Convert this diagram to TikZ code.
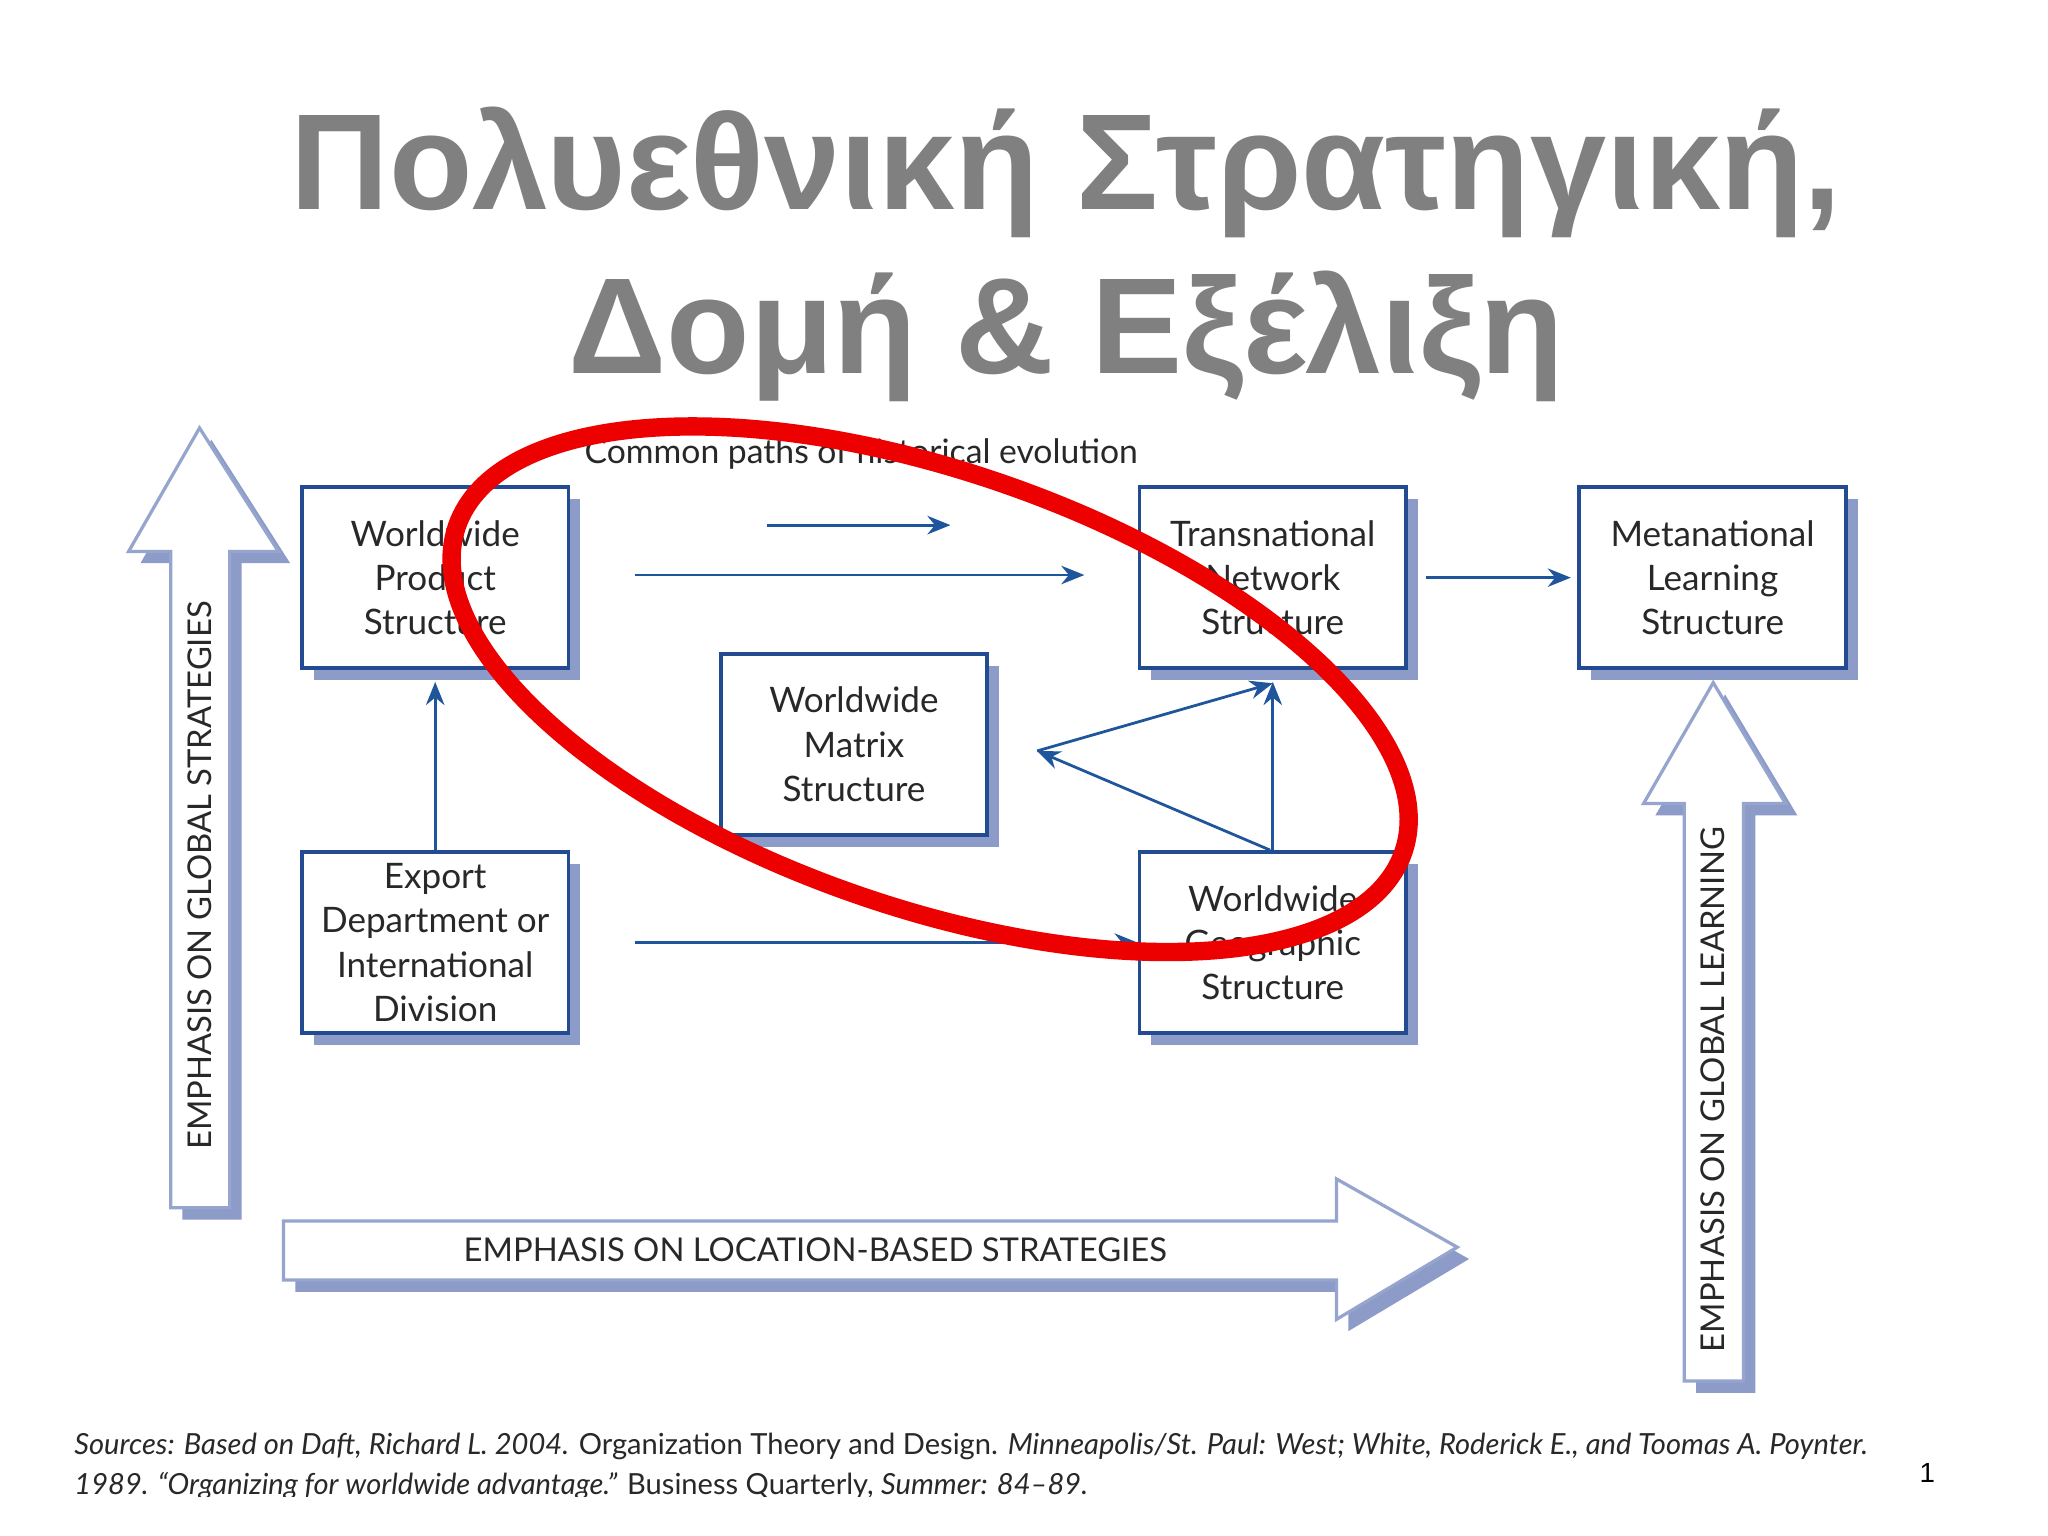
\documentclass[tikz,border=0pt]{standalone}
\usepackage{fontspec}
\setmainfont{Lato}
\newfontfamily\titlefont{Liberation Sans}
\usetikzlibrary{shadows,arrows.meta}
\definecolor{shadowc}{RGB}{140,155,200}
\definecolor{boxc}{RGB}{35,75,145}
\definecolor{arrc}{RGB}{30,85,155}
\definecolor{bigc}{RGB}{150,165,205}
\definecolor{txt}{RGB}{40,40,40}
\definecolor{titlec}{RGB}{128,128,128}
\definecolor{redc}{RGB}{236,0,0}
\tikzset{
  stbox/.style={draw=boxc,line width=0.8pt,fill=white,minimum width=2.03cm,minimum height=1.38cm,align=center,inner sep=1pt,
    font=\fontsize{7.6pt}{9.6pt}\selectfont,text=txt,
    general shadow={fill=shadowc,shadow xshift=0.09cm,shadow yshift=-0.09cm}},
  conn/.style={draw=arrc,line width=0.6pt,-{Stealth[length=5pt,width=4pt]}},
  bigarrow/.style={draw=bigc,line width=0.7pt,fill=white},
  bigshadow/.style={fill=shadowc},
  emph/.style={font=\fontsize{7.1pt}{8pt}\selectfont,text=txt}
}
\begin{document}
\begin{tikzpicture}[x=0.01cm,y=-0.01cm]
\useasboundingbox[fill=white] (0,0) rectangle (1560,1170);
% title
\node[font=\titlefont\bfseries\fontsize{29.6pt}{35.6pt}\selectfont,text=titlec,align=center] (title) at (812,194) {Πολυεθνική Στρατηγική,\\Δομή \& Εξέλιξη};
% big arrows: shadows
\fill[bigshadow,shift={(9,9)}] (130,920) -- (130,420) -- (98,420) -- (152,326) -- (212,420) -- (175,420) -- (175,920) -- cycle;
\fill[bigshadow,shift={(9,9)}] (216,930) -- (1018,930) -- (1018,898) -- (1110,950) -- (1018,1005) -- (1018,975) -- (216,975) -- cycle;
\fill[bigshadow,shift={(9,9)}] (1283,1052) -- (1283,612) -- (1252,612) -- (1305,520) -- (1360,612) -- (1328,612) -- (1328,1052) -- cycle;
\draw[bigarrow] (130,920) -- (130,420) -- (98,420) -- (152,326) -- (212,420) -- (175,420) -- (175,920) -- cycle;
\draw[bigarrow] (216,930) -- (1018,930) -- (1018,898) -- (1110,950) -- (1018,1005) -- (1018,975) -- (216,975) -- cycle;
\draw[bigarrow] (1283,1052) -- (1283,612) -- (1252,612) -- (1305,520) -- (1360,612) -- (1328,612) -- (1328,1052) -- cycle;
\node[emph,rotate=90] (eg) at (152,667) {EMPHASIS ON GLOBAL STRATEGIES};
\node[emph] (el) at (621,952) {EMPHASIS ON LOCATION-BASED STRATEGIES};
\node[emph,rotate=90] (gl) at (1305,830) {EMPHASIS ON GLOBAL LEARNING};
% label
\node[font=\fontsize{7.3pt}{8pt}\selectfont,text=txt] (cp) at (656,346) {Common paths of historical evolution};
% boxes
\node[stbox] (wps) at (331.5,440) {Worldwide\\Product\\Structure};
\node[stbox] (tns) at (969.5,440) {Transnational\\Network\\Structure};
\node[stbox] (mls) at (1304.5,440) {Metanational\\Learning\\Structure};
\node[stbox] (wms) at (650.5,567) {Worldwide\\Matrix\\Structure};
\node[stbox] (exp) at (331.5,718) {Export\\Department or\\International\\Division};
\node[stbox] (wgs) at (969.5,718) {Worldwide\\Geographic\\Structure};
% connectors
\coordinate (a1) at (584,400); \coordinate (a2) at (724,400);
\coordinate (b1) at (484,438); \coordinate (b2) at (826,438);
\coordinate (c1) at (484,718);
\coordinate (mv) at (790,572);
\draw[conn] (a1) -- (a2);
\draw[conn] (b1) -- (b2);
\draw[conn] ([xshift=0.14cm]tns.east) -- ([xshift=-0.05cm]mls.west);
\draw[conn] (exp.north) -- ([yshift=-0.09cm]wps.south);
\draw[conn] (wgs.north) -- ([yshift=-0.09cm]tns.south);
\draw[conn] ([xshift=-0.02cm]wgs.north) -- (mv);
\draw[conn] (mv) -- ([yshift=-0.1cm]tns.south);
\draw[conn] (c1) -- (wgs.west);
% red ellipse
\draw[redc,line width=0.14cm,rotate around={-19:(708.5,525)}] (708.5,525) ellipse [x radius=3.81cm, y radius=1.66cm];
% footer
\node[anchor=west,font=\fontsize{6.3pt}{8.5pt}\selectfont,text=txt,align=left,inner sep=0pt] (src) at (56,1117) {\textit{Sources: Based on Daft, Richard L. 2004.} Organization Theory and Design. \textit{Minneapolis/St. Paul: West; White, Roderick E., and Toomas A. Poynter.}\\\textit{1989. “Organizing for worldwide advantage.”} Business Quarterly, \textit{Summer: 84–89.}};
\fill[white] (0,1140) rectangle (1450,1170);
\node[font=\titlefont\fontsize{6pt}{7pt}\selectfont] (pn) at (1468,1122) {1};
\end{tikzpicture}
\end{document}
